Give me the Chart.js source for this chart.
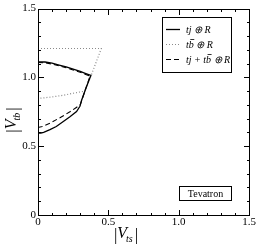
<!DOCTYPE html>
<html>
<head>
<meta charset="utf-8">
<script src="https://cdn.jsdelivr.net/npm/chart.js@4.4.0/dist/chart.umd.min.js"></script>
<style>
  html, body { margin: 0; padding: 0; background: #fff; }
  canvas { display: block; }
</style>
</head>
<body>
<canvas id="vtbChart" width="257" height="245"></canvas>
<script>
// curves, |V_ts| on x and |V_tb| on y
const tjX = [0, 0.05, 0.1, 0.15, 0.2, 0.25, 0.3, 0.34, 0.376, 0.34, 0.31, 0.298, 0.274, 0.227, 0.18, 0.13, 0.085, 0.04, 0.02, 0];
const tjY = [1.112, 1.112, 1.103, 1.09, 1.076, 1.06, 1.043, 1.028, 1.015, 0.92, 0.834, 0.79, 0.752, 0.714, 0.68, 0.643, 0.62, 0.601, 0.596, 0.595];

const tbX = [0, 0.45, 0.38, 0.333, 0.25, 0.18, 0.1, 0.04, 0];
const tbY = [1.21, 1.21, 1.02, 0.9, 0.885, 0.87, 0.858, 0.851, 0.848];

const bothX = [0, 0.05, 0.1, 0.15, 0.2, 0.25, 0.3, 0.37, 0.3, 0.27, 0.227, 0.156, 0.085, 0.03, 0];
const bothY = [1.108, 1.106, 1.097, 1.085, 1.07, 1.054, 1.037, 1.01, 0.8, 0.78, 0.75, 0.707, 0.667, 0.643, 0.636];

const seriesLabels = [
  [{ t: 'tj ⊕ R' }],
  [{ t: 't' }, { t: 'b', over: true }, { t: ' ⊕ R' }],
  [{ t: 'tj + t' }, { t: 'b', over: true }, { t: ' ⊕ R' }]
];
const boxLabel = 'Tevatron';
const axisMin = 0, axisMax = 1.5, minorStep = 0.1;

const serif = 'Liberation Serif';

function pts(xs, ys) {
  return xs.map((x, i) => ({ x: x, y: ys[i] }));
}

function isMajor(v) {
  return Math.abs(v * 2 - Math.round(v * 2)) < 1e-6;
}

function fmt(v) {
  if (Math.abs(v) < 1e-9) return '0';
  return v.toFixed(1);
}

// draws text pieces in a row, with an overline where asked
function drawPieces(ctx, pieces, x, y) {
  pieces.forEach(p => {
    ctx.fillText(p.t, x, y);
    const w = ctx.measureText(p.t).width;
    if (p.over) {
      ctx.fillRect(x + 1.5, y - 9, w - 1, 0.8);
    }
    x += w;
  });
}

// |V_sub| with an italic V and subscript
function drawVLabel(ctx, sub, cx, cy) {
  ctx.save();
  ctx.textBaseline = 'alphabetic';
  ctx.textAlign = 'left';
  const big = '17px ' + serif, bigIt = 'italic 16px ' + serif, small = 'italic 10px ' + serif;
  ctx.font = big; const wBar = ctx.measureText('|').width;
  ctx.font = bigIt; const wV = ctx.measureText('V').width;
  ctx.font = small; const wS = ctx.measureText(sub).width;
  const total = wBar * 2 + wV + wS + 1;
  let x = cx - total / 2;
  const y = cy + 5;
  ctx.font = big; ctx.fillText('|', x, y + 2); x += wBar;
  ctx.font = bigIt; ctx.fillText('V', x, y); x += wV;
  ctx.font = small; ctx.fillText(sub, x - 1, y + 4); x += wS + 1;
  ctx.font = big; ctx.fillText('|', x, y + 2);
  ctx.restore();
}

const framePlugin = {
  id: 'frame',
  afterDraw(chart) {
    const c = chart.ctx;
    const a = chart.chartArea;
    const xs = chart.scales.x, ys = chart.scales.y;
    const L = Math.round(a.left), T = Math.round(a.top);
    const R = Math.round(a.right), B = Math.round(a.bottom);
    c.save();
    c.fillStyle = '#000';
    // frame
    c.fillRect(L, T, R - L + 1, 1);
    c.fillRect(L, B, R - L + 1, 1);
    c.fillRect(L, T, 1, B - T + 1);
    c.fillRect(R, T, 1, B - T + 1);

    // inward ticks on all four sides
    const n = Math.round((axisMax - axisMin) / minorStep);
    for (let i = 0; i <= n; i++) {
      const v = axisMin + i * minorStep;
      const len = isMajor(v) ? 6 : 3;
      const px = Math.round(xs.getPixelForValue(v));
      const py = Math.round(ys.getPixelForValue(v));
      c.fillRect(px, B - len + 1, 1, len);
      c.fillRect(px, T, 1, len);
      c.fillRect(L, py, len, 1);
      c.fillRect(R - len + 1, py, len, 1);
    }

    // legend box
    const lx = 162, ly = 17, lw = 69, lh = 55;
    c.fillStyle = '#fff';
    c.fillRect(lx, ly, lw, lh);
    c.fillStyle = '#000';
    c.fillRect(lx, ly, lw + 1, 1);
    c.fillRect(lx, ly + lh, lw + 1, 1);
    c.fillRect(lx, ly, 1, lh + 1);
    c.fillRect(lx + lw, ly, 1, lh + 1);
    const rows = [29.5, 44.5, 59.5];
    chart.data.datasets.forEach((ds, i) => {
      c.save();
      c.strokeStyle = ds.borderColor;
      c.lineWidth = ds.borderWidth;
      c.setLineDash(ds.borderDash || []);
      c.beginPath();
      c.moveTo(166, rows[i]);
      c.lineTo(180, rows[i]);
      c.stroke();
      c.restore();
      c.fillStyle = '#000';
      c.font = 'italic 10px ' + serif;
      c.textAlign = 'left';
      c.textBaseline = 'alphabetic';
      drawPieces(c, seriesLabels[i], 186, rows[i] + 3.5);
    });

    // Tevatron box
    c.fillRect(179, 186, 53, 1);
    c.fillRect(179, 200, 53, 1);
    c.fillRect(179, 186, 1, 15);
    c.fillRect(231, 186, 1, 15);
    c.font = '10px ' + serif;
    c.textAlign = 'center';
    c.textBaseline = 'middle';
    c.fillText(boxLabel, 205.5, 194);

    // axis titles
    drawVLabel(c, 'ts', 126, 233);
    c.save();
    c.translate(11, 120);
    c.rotate(-Math.PI / 2);
    drawVLabel(c, 'tb', 0, 0);
    c.restore();
    c.restore();
  }
};

const ctx = document.getElementById('vtbChart').getContext('2d');

const vtbChart = new Chart(ctx, {
  type: 'scatter',
  data: {
    datasets: [{
      label: 'tj ⊕ R',
      data: pts(tjX, tjY),
      borderColor: '#000',
      borderWidth: 1.3
    }, {
      label: 'tb ⊕ R',
      data: pts(tbX, tbY),
      borderColor: '#8a8a8a',
      borderWidth: 1.2,
      borderDash: [1, 2]
    }, {
      label: 'tj + tb ⊕ R',
      data: pts(bothX, bothY),
      borderColor: '#000',
      borderWidth: 1.1,
      borderDash: [5, 3]
    }]
  },
  options: {
    responsive: false,
    animation: false,
    showLine: true,
    elements: { point: { radius: 0 }, line: { tension: 0, fill: false } },
    layout: { padding: { top: 5, right: 8, left: 0, bottom: 0 } },
    plugins: { legend: { display: false }, tooltip: { enabled: false } },
    scales: {
      x: {
        type: 'linear',
        min: axisMin,
        max: axisMax,
        grid: { display: false, drawTicks: false },
        border: { display: false },
        afterFit: s => { s.height = 30; },
        ticks: {
          stepSize: minorStep,
          autoSkip: false,
          maxRotation: 0,
          padding: 1,
          color: '#000',
          font: { family: serif, size: 11 },
          callback: v => isMajor(v) ? fmt(v) : ''
        }
      },
      y: {
        type: 'linear',
        min: axisMin,
        max: axisMax,
        grid: { display: false, drawTicks: false },
        border: { display: false },
        afterFit: s => { s.width = 38; },
        ticks: {
          stepSize: minorStep,
          autoSkip: false,
          padding: 2,
          color: '#000',
          font: { family: serif, size: 11 },
          callback: v => isMajor(v) ? fmt(v) : ''
        }
      }
    }
  },
  plugins: [framePlugin]
});
</script>
</body>
</html>
